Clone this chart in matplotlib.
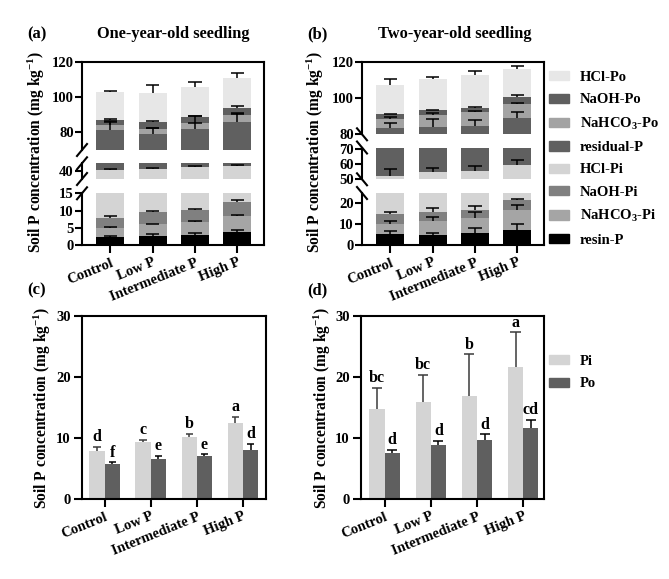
import numpy as np
import matplotlib
matplotlib.use('Agg')
import matplotlib.pyplot as plt
from matplotlib.patches import Patch
from matplotlib.lines import Line2D

plt.rcParams['font.family'] = 'Liberation Serif'
plt.rcParams['font.weight'] = 'bold'
plt.rcParams['mathtext.fontset'] = 'custom'
plt.rcParams['mathtext.rm'] = 'Liberation Serif:bold'
plt.rcParams['mathtext.it'] = 'Liberation Serif:bold'
plt.rcParams['mathtext.bf'] = 'Liberation Serif:bold'

treatments = ['Control', 'Low P', 'Intermediate P', 'High P']
fractions = ['resin-P', 'NaHCO$_3$-Pi', 'NaOH-Pi', 'HCl-Pi',
             'residual-P', 'NaHCO$_3$-Po', 'NaOH-Po', 'HCl-Po']
frac_colors = ['#000000', '#a5a5a5', '#808080', '#d4d4d4',
               '#606060', '#a3a3a3', '#5f5f5f', '#e7e7e7']

# fraction means / SD, rows follow `fractions`, columns follow `treatments`
one_mean = [[2.3, 2.7, 3.0, 3.8],
            [2.7, 3.4, 3.8, 4.7],
            [2.9, 3.4, 3.4, 3.9],
            [32.9, 31.8, 32.3, 30.8],
            [40.7, 37.7, 39.4, 42.5],
            [2.9, 3.1, 3.2, 4.2],
            [2.8, 3.6, 3.9, 4.2],
            [16.0, 16.8, 16.9, 16.9]]
one_sd = [[0.2, 0.4, 0.4, 0.5],
          [0.3, 0.1, 0.3, 0.1],
          [0.6, 0.3, 0.3, 0.6],
          [0.2, 0.7, 0.4, 0.4],
          [4.2, 3.3, 3.6, 5.2],
          [2.3, 0.3, 4.4, 0.3],
          [0.6, 0.6, 0.5, 0.8],
          [0.4, 4.4, 2.7, 2.7]]
two_mean = [[5.1, 5.0, 5.6, 7.4],
            [5.0, 6.4, 7.2, 9.2],
            [4.6, 4.4, 4.2, 5.0],
            [37.7, 39.0, 38.5, 37.6],
            [30.9, 29.0, 29.3, 29.6],
            [5.3, 6.8, 7.3, 8.2],
            [2.6, 2.6, 2.6, 3.9],
            [15.8, 17.2, 18.1, 15.4]]
two_sd = [[1.6, 0.9, 2.4, 2.8],
          [1.6, 1.9, 3.0, 2.4],
          [1.0, 1.8, 1.6, 0.6],
          [4.4, 2.9, 3.3, 3.5],
          [3.1, 4.6, 3.1, 3.3],
          [0.7, 1.3, 0.7, 0.4],
          [0.3, 0.5, 0.5, 0.9],
          [3.6, 1.3, 2.0, 1.4]]

# labile Pi / Po
one_pi = [7.9, 9.4, 10.2, 12.5]
one_pi_sd = [0.7, 0.3, 0.5, 0.9]
one_po = [5.7, 6.6, 7.0, 8.1]
one_po_sd = [0.3, 0.4, 0.3, 0.9]
one_pi_letters = ['d', 'c', 'b', 'a']
one_po_letters = ['f', 'e', 'e', 'd']
two_pi = [14.8, 15.9, 16.9, 21.7]
two_pi_sd = [3.4, 4.5, 6.8, 5.6]
two_po = [7.5, 8.9, 9.6, 11.7]
two_po_sd = [0.5, 0.6, 1.0, 1.3]
two_pi_letters = ['bc', 'bc', 'b', 'a']
two_po_letters = ['d', 'd', 'd', 'cd']

W, H = 669, 579
fig = plt.figure(figsize=(W / 100, H / 100), dpi=100)
LW = 1.5
YLABEL = 'Soil P concentration (mg kg$^{-1}$)'


def px_axes(x0, y0, x1, y1):
    return fig.add_axes([x0 / W, 1 - y1 / H, (x1 - x0) / W, (y1 - y0) / H])


def slash(xp, yp, sign):
    # axis break mark, pixel coords (y down); sign 1 -> '\', -1 -> '/'
    dx, dy = 5, 6
    xs = [(xp - dx) / W, (xp + dx) / W]
    ys = [1 - (yp - sign * dy) / H, 1 - (yp + sign * dy) / H]
    fig.add_artist(Line2D(xs, ys, color='black', lw=LW, transform=fig.transFigure))


def up_err(ax, x, y, e, half, color='black'):
    # one-sided error bar, cap on top only
    ax.vlines(x, y, y + e, color=color, lw=1.1, zorder=5)
    ax.hlines(y + e, x - half, x + half, color=color, lw=1.1, zorder=5)


def style_ticks(ax):
    for lab in ax.get_yticklabels() + ax.get_xticklabels():
        lab.set_fontweight('bold')


def broken_panel(x0, x1, segments, mean, sd, sign):
    x = np.arange(len(treatments))
    mean = np.array(mean)
    sd = np.array(sd)
    tops = np.cumsum(mean, axis=0)
    # frame for top and right spine
    frame = px_axes(x0, segments[0][0], x1, segments[-1][1])
    frame.patch.set_visible(False)
    frame.set_xticks([])
    frame.set_yticks([])
    for s in ['left', 'bottom']:
        frame.spines[s].set_visible(False)
    for s in ['top', 'right']:
        frame.spines[s].set_linewidth(LW)
    for i, (ya, yb, lim, ticks) in enumerate(segments):
        ax = px_axes(x0, ya, x1, yb)
        ax.patch.set_visible(False)
        bottom = np.zeros(len(x))
        for k in range(len(fractions)):
            ax.bar(x, mean[k], bottom=bottom, width=0.66, color=frac_colors[k], linewidth=0)
            bottom = bottom + mean[k]
        for k in range(len(fractions)):
            up_err(ax, x, tops[k], sd[k], 0.16)
        ax.set_xlim(-0.67, 3.63)
        ax.set_ylim(*lim)
        ax.set_yticks(ticks)
        ax.tick_params(axis='y', width=LW, length=5, labelsize=10.5, pad=1)
        for s in ['top', 'right']:
            ax.spines[s].set_visible(False)
        ax.spines['left'].set_linewidth(LW)
        if i < len(segments) - 1:
            ax.spines['bottom'].set_visible(False)
            ax.set_xticks([])
            slash(x0, yb, sign)
        else:
            ax.spines['bottom'].set_linewidth(LW)
            ax.set_xticks(x)
            ax.set_xticklabels(treatments, rotation=22, ha='right', rotation_mode='anchor')
            ax.tick_params(axis='x', width=LW, length=6, labelsize=10.5, pad=2)
        if i > 0:
            slash(x0, ya, sign)
        style_ticks(ax)


def pair_panel(x0, x1, pi, pi_sd, po, po_sd, pi_let, po_let, xlim, half):
    ax = px_axes(x0, 316, x1, 499)
    x = np.arange(len(treatments))
    w = 0.33
    ax.bar(x - w / 2, pi, width=w, color='#d4d4d4', linewidth=0)
    ax.bar(x + w / 2, po, width=w, color='#5f5f5f', linewidth=0)
    up_err(ax, x - w / 2, np.array(pi), np.array(pi_sd), half, color='#3a3a3a')
    up_err(ax, x + w / 2, np.array(po), np.array(po_sd), half)
    for i in range(len(x)):
        ax.text(x[i] - w / 2, pi[i] + pi_sd[i] + 0.3, pi_let[i], ha='center', va='bottom',
                fontsize=11.5, fontweight='bold')
        ax.text(x[i] + w / 2, po[i] + po_sd[i] + 0.3, po_let[i], ha='center', va='bottom',
                fontsize=11.5, fontweight='bold')
    ax.set_xlim(*xlim)
    ax.set_ylim(0, 30)
    ax.set_yticks([0, 10, 20, 30])
    ax.set_xticks(x)
    ax.set_xticklabels(treatments, rotation=22, ha='right', rotation_mode='anchor')
    ax.tick_params(width=LW, length=6, labelsize=10.5, pad=2)
    for s in ax.spines.values():
        s.set_linewidth(LW)
    style_ticks(ax)


seg_a = [(62, 150, (70, 120), [80, 100, 120]),
         (163.3, 179, (35.5, 44.5), [40]),
         (193.3, 245, (0, 15), [0, 5, 10, 15])]
seg_b = [(62, 134.3, (80, 120), [80, 100, 120]),
         (147.5, 179.3, (50, 71), [50, 60, 70]),
         (193, 245, (0, 25), [0, 10, 20])]

broken_panel(82, 264, seg_a, one_mean, one_sd, -1)
broken_panel(362, 544, seg_b, two_mean, two_sd, 1)
pair_panel(82, 266, one_pi, one_pi_sd, one_po, one_po_sd, one_pi_letters, one_po_letters,
           (-0.49, 3.5), 0.08)
pair_panel(361, 544, two_pi, two_pi_sd, two_po, two_po_sd, two_pi_letters, two_po_letters,
           (-0.51, 3.45), 0.11)


def ftext(xp, yp, s, **kw):
    fig.text(xp / W, 1 - yp / H, s, fontweight='bold', **kw)


ftext(27, 34, '(a)', fontsize=12, va='center')
ftext(173, 34, 'One-year-old seedling', fontsize=11.8, ha='center', va='center')
ftext(307, 34, '(b)', fontsize=12, va='center')
ftext(455, 34, 'Two-year-old seedling', fontsize=11.8, ha='center', va='center')
ftext(27, 290, '(c)', fontsize=12, va='center')
ftext(307, 290, '(d)', fontsize=12, va='center')
ftext(36, 152, YLABEL, fontsize=11.2, rotation=90, ha='center', va='center')
ftext(315, 152, YLABEL, fontsize=11.2, rotation=90, ha='center', va='center')
ftext(42, 408, YLABEL, fontsize=11.2, rotation=90, ha='center', va='center')
ftext(322, 408, YLABEL, fontsize=11.2, rotation=90, ha='center', va='center')

# legends
handles = [Patch(color=frac_colors[k], label=fractions[k]) for k in range(len(fractions) - 1, -1, -1)]
fig.legend(handles=handles, loc='upper left', bbox_to_anchor=(549 / W, 1 - 71 / H),
           frameon=False, fontsize=10.5, handlelength=1.4, handleheight=0.6,
           handletextpad=0.7, labelspacing=0.64, borderaxespad=0, borderpad=0)
handles2 = [Patch(color='#d4d4d4', label='Pi'), Patch(color='#5f5f5f', label='Po')]
fig.legend(handles=handles2, loc='upper left', bbox_to_anchor=(549 / W, 1 - 355 / H),
           frameon=False, fontsize=10.5, handlelength=1.4, handleheight=0.6,
           handletextpad=0.7, labelspacing=0.64, borderaxespad=0, borderpad=0)

fig.savefig('out.png', dpi=100)
